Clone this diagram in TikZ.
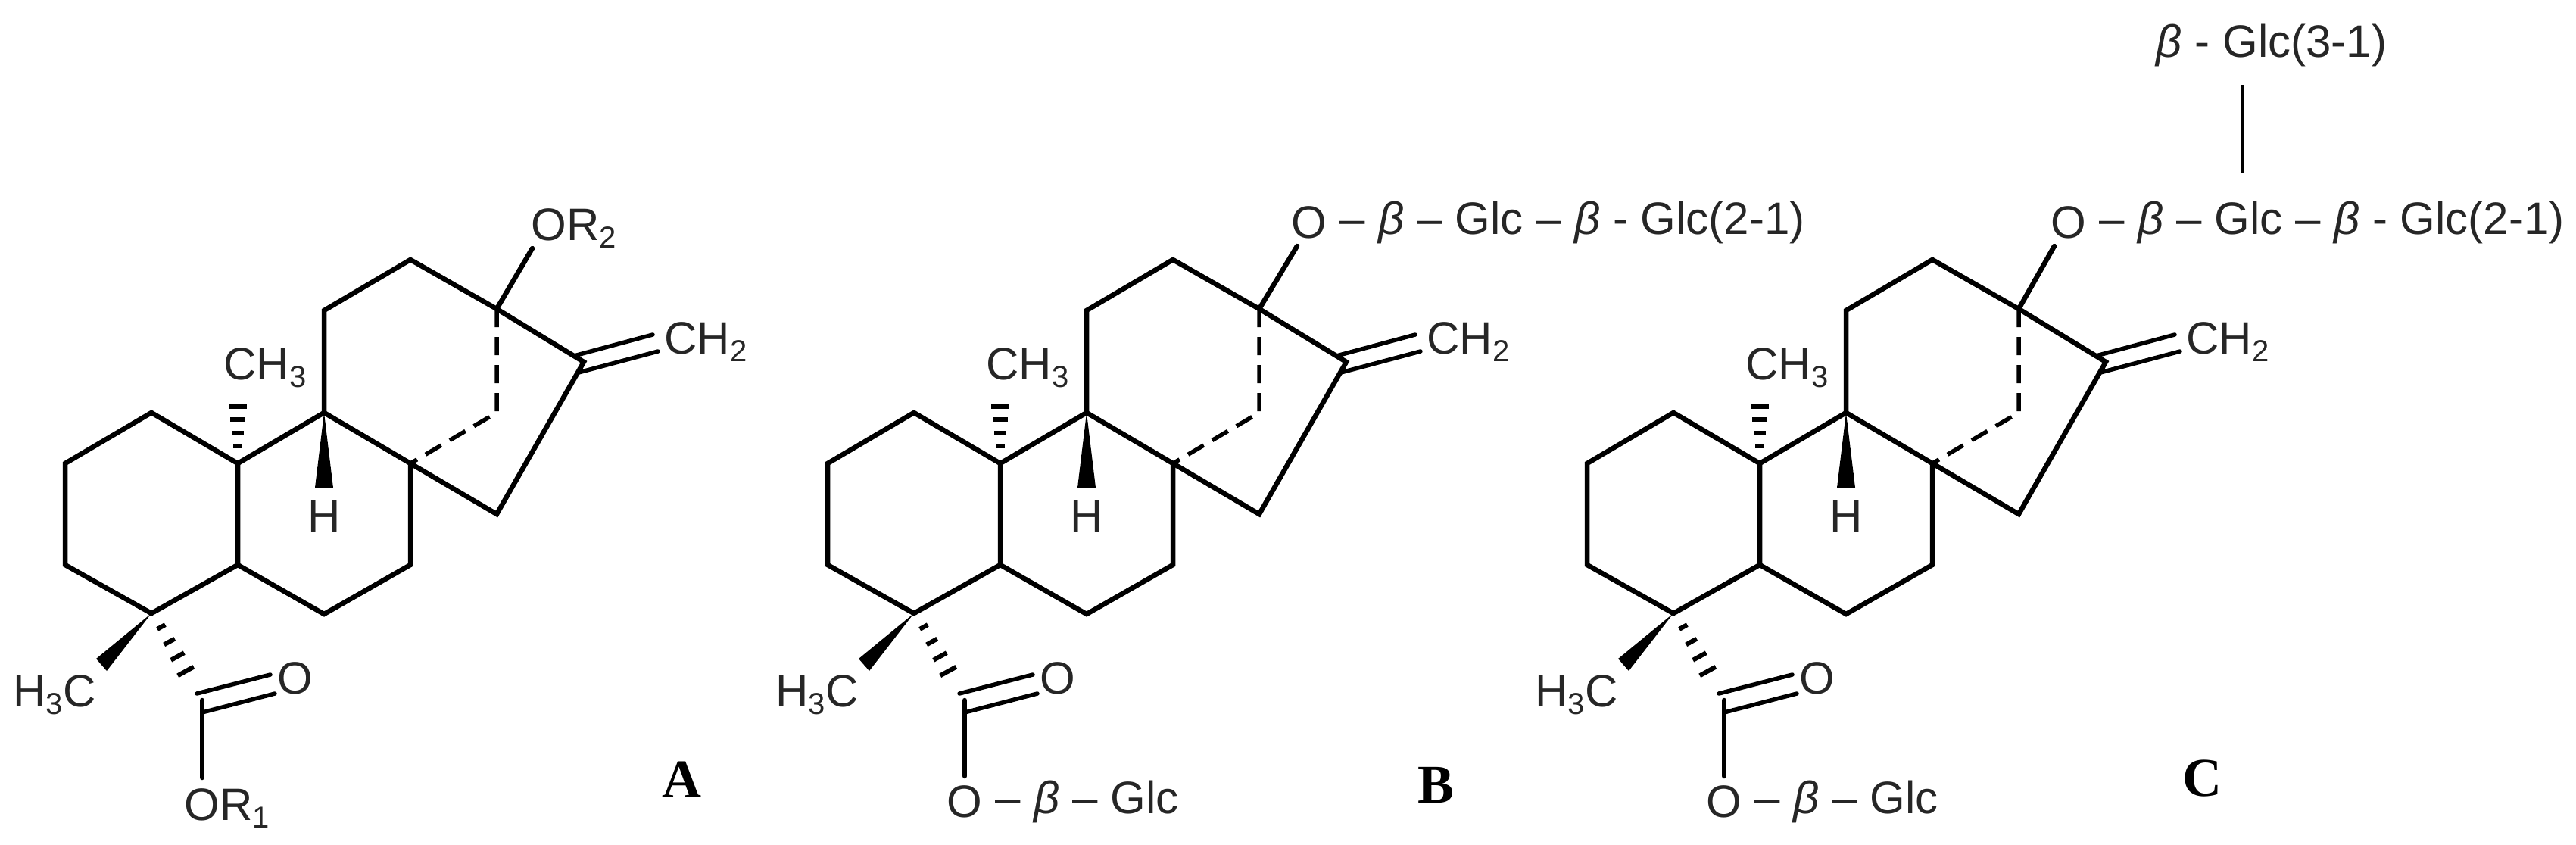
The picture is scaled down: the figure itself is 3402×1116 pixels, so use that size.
\documentclass[tikz,border=0pt]{standalone}
\usepackage{fontspec}
\setmainfont{Liberation Sans}
\newfontfamily\lettersfont{Liberation Serif}
\usetikzlibrary{calc,positioning}
\newcommand{\lowsub}[1]{\raisebox{-10pt}{\fontsize{40}{44}\selectfont #1}}
\newcommand{\betaup}{\textit{β}}
\newcommand{\gap}{\hspace{17pt}}
\tikzset{
	bond/.style={line width=6.5pt,line cap=round,line join=miter},
	thinbond/.style={line width=5.5pt,line cap=round},
	dashbond/.style={line width=5.5pt,dash pattern=on 24pt off 13pt},
	hashbar/.style={line width=6pt},
	atom/.style={inner sep=0pt,font=\fontsize{60}{66}\selectfont,text=black!85},
	letter/.style={inner sep=0pt,font=\lettersfont\bfseries\fontsize{72}{80}\selectfont}
}
\newcommand{\hashbond}[2]{
	\foreach \t/\w in {0/6,0.25/8,0.5/10,0.75/12,1/15}
		\draw[hashbar] ($(#1)!\t!(#2)!\w pt!90:(#2)$) -- ($(#1)!\t!(#2)!\w pt!-90:(#2)$);
}
\begin{document}
\begin{tikzpicture}[x=1pt,y=-1pt]
	\useasboundingbox (0,0) rectangle (3402,1116);
	\foreach \m/\dx in {a/0,b/1007,c/2010}{
	\begin{scope}[shift={(\dx,0)}]
		% ring atoms
		\coordinate (\m1) at (86,612);
		\coordinate (\m2) at (200,545);
		\coordinate (\m3) at (314,612);
		\coordinate (\m4) at (314,746);
		\coordinate (\m5) at (200,810);
		\coordinate (\m6) at (86,746);
		\coordinate (\m7) at (428,545);
		\coordinate (\m8) at (542,612);
		\coordinate (\m9) at (542,746);
		\coordinate (\m10) at (428,811);
		\coordinate (\m11) at (428,410);
		\coordinate (\m12) at (542,343);
		\coordinate (\m13) at (656,408);
		\coordinate (\m14) at (656,545);
		\coordinate (\m15) at (771,478);
		\coordinate (\m16) at (656,679);
		\coordinate (\m17) at (267,925);
		\node[atom] (\m-me) at (350,486) {CH\lowsub{3}};
		\node[atom] (\m-h) at (428,682) {H};
		\node[atom] (\m-ch) at (932,452) {CH\lowsub{2}};
		\node[atom] (\m-hc) at (72,918) {H\lowsub{3}C};
		\node[atom] (\m-co) at (390,896) {O};
		\draw[bond] (\m1) -- (\m2) -- (\m3) -- (\m4) -- (\m5) -- (\m6) -- cycle;
		\draw[bond] (\m3) -- (\m7) -- (\m8) -- (\m9) -- (\m10) -- (\m4);
		\draw[bond] (\m7) -- (\m11) -- (\m12) -- (\m13) -- (\m15) -- (\m16) -- (\m8);
		\draw[dashbond] (\m13) -- (\m14) -- (\m8);
		% stereo bonds
		\fill (\m7) -- (416,644) -- (440,644) -- cycle;
		\fill (\m5) -- (127,870) -- (141,886) -- cycle;
		\coordinate (\m-up) at (314,519);
		\coordinate (\m-low) at (314,589);
		\hashbond{\m-low}{\m-up}
		\coordinate (\m-hs) at (213,828);
		\coordinate (\m-he) at (256,906);
		\hashbond{\m-hs}{\m-he}
		% double bonds
		\draw[thinbond] (758,470) -- (862,442);
		\draw[thinbond] (764,492) -- (869,464);
		\draw[thinbond] (260,916) -- (357,891);
		\draw[thinbond] (267,941) -- (363,916);
	\end{scope}
	}
	\node[atom] (or2) at (758,302) {OR\lowsub{2}};
	\draw[bond] (a13) -- (703,328);
	\node[atom] (or1) at (300,1068) {OR\lowsub{1}};
	\draw[bond] (a17) -- (267,1027);
	\node[letter] (la) at (900,1030) {A};
	% second compound
	\node[atom] (oe) at (1729,294) {O};
	\node[atom,right=17pt of oe] (se) {–\gap\betaup\gap–\gap Glc\gap–\gap\betaup{} - Glc(2-1)};
	\draw[bond] (b13) -- (1713,325);
	\node[atom] (oo) at (1274,1059) {O};
	\node[atom,right=17pt of oo] (so) {–\gap\betaup\gap–\gap Glc};
	\draw[bond] (b17) -- (1274,1025);
	\node[letter] (lb) at (1896,1037) {B};
	% third compound
	\node[atom] (pe) at (2732,294) {O};
	\node[atom,right=17pt of pe] (te) {–\gap\betaup\gap–\gap Glc\gap–\gap\betaup{} - Glc(2-1)};
	\draw[bond] (c13) -- (2713,325);
	\node[atom] (po) at (2277,1059) {O};
	\node[atom,right=17pt of po] (to) {–\gap\betaup\gap–\gap Glc};
	\draw[bond] (c17) -- (2277,1025);
	\node[letter] (lc) at (2908,1028) {C};
	\node[atom] (up) at (3000,60) {\betaup{} - Glc(3-1)};
	\coordinate (upa) at (2962,112);
	\coordinate (upb) at (2962,228);
	\draw[line width=3.5pt] (upa) -- (upb);
\end{tikzpicture}
\end{document}
